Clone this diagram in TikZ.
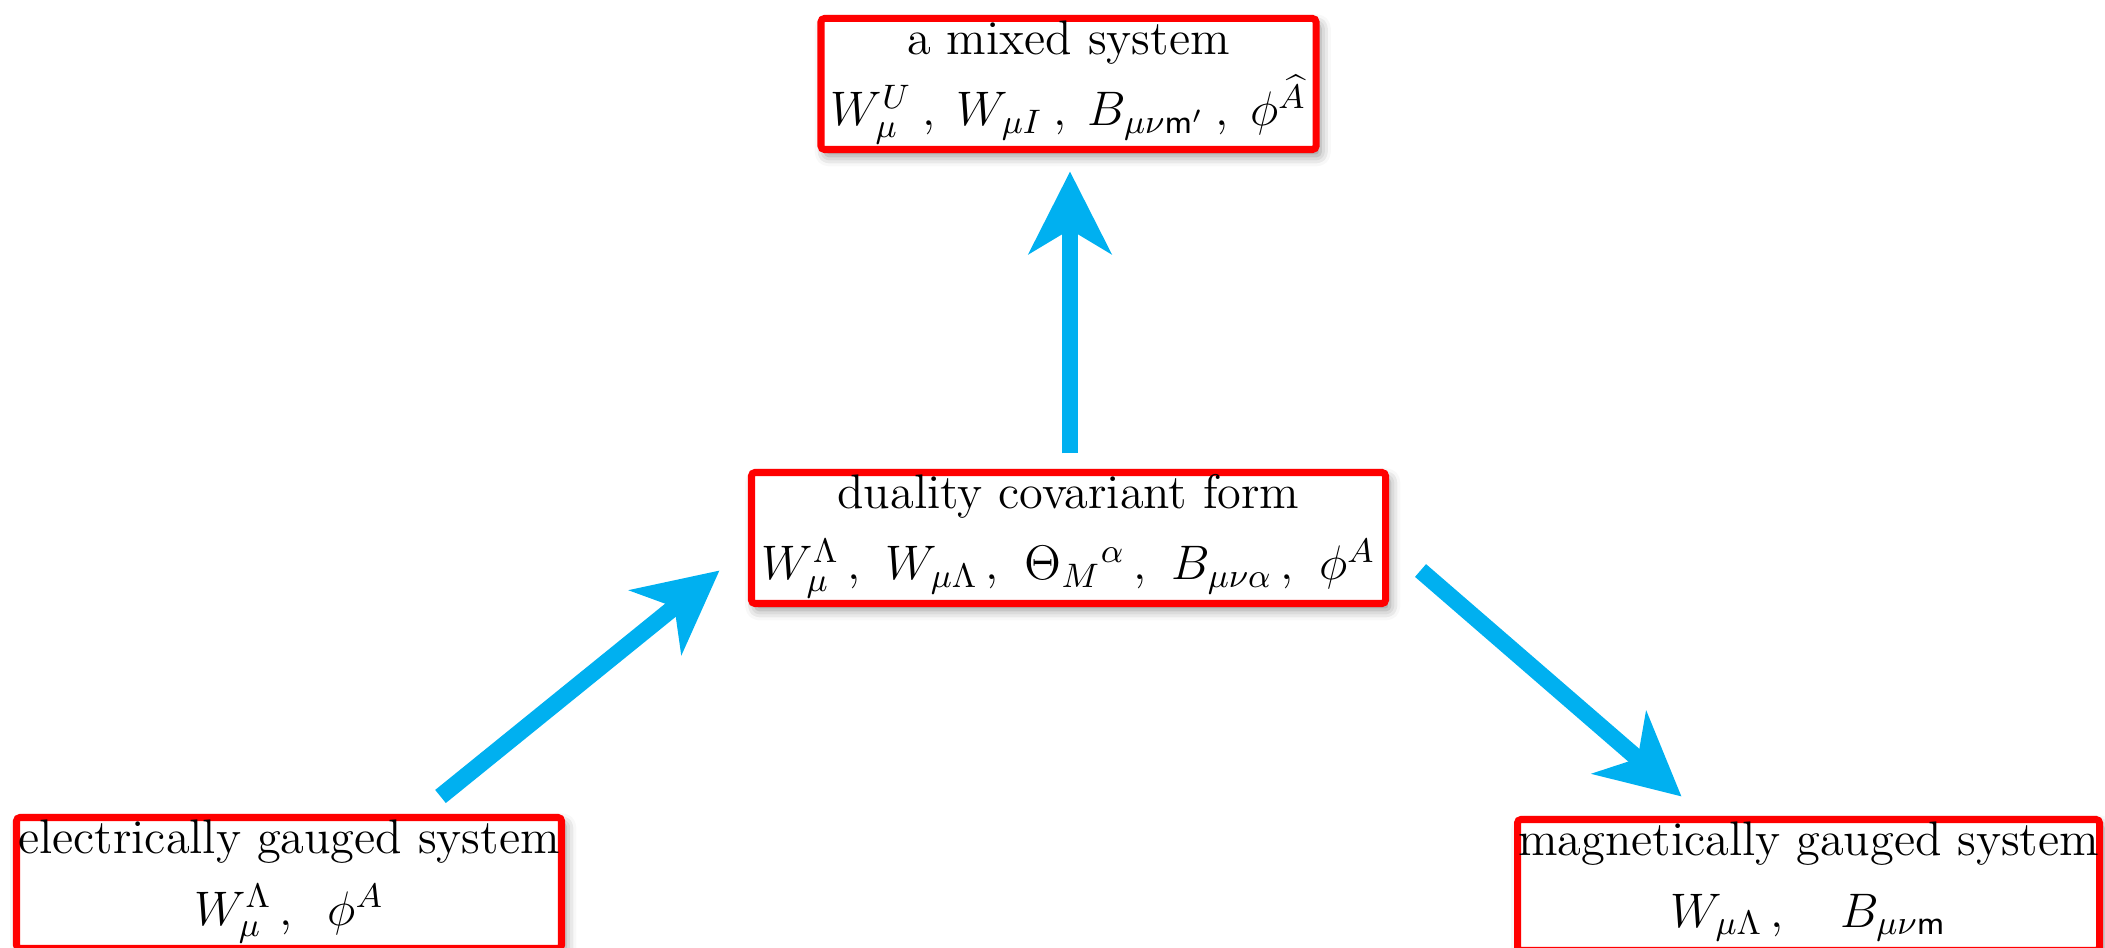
\RequirePackage{fix-cm}
\documentclass[tikz,border=0pt]{standalone}
\usetikzlibrary{arrows.meta,shadows.blur}
\definecolor{boxred}{RGB}{255,0,0}
\definecolor{flowblue}{RGB}{0,176,240}
% two centred lines with a fixed distance between their baselines
\newcommand\twolines[2]{\vbox{\baselineskip=20.3pt\lineskiplimit=-\maxdimen
  \halign{\hfil##\hfil\cr#1\cr#2\cr}}}
\tikzset{
  sysbox/.style={draw=boxred, line width=2pt, fill=white, rounded corners=1pt,
    inner sep=0pt, minimum height=1.31cm, text height=30.5pt, text depth=6.6pt,
    font=\fontsize{13.8}{20.3}\selectfont,
    blur shadow={shadow xshift=1.2pt, shadow yshift=-1.8pt,
      shadow blur radius=3pt, shadow opacity=45}},
  flow/.style={draw=flowblue, line width=4.8pt,
    -{Stealth[length=0.82cm, width=0.82cm, inset=0.24cm]}},
}
\begin{document}
\begin{tikzpicture}
\useasboundingbox (0,0) rectangle (21.05,9.47);

% the four systems
\node[sysbox, minimum width=4.95cm] (top) at (10.685,8.63)
  {\twolines{a mixed system}
   {$W^U_\mu\mskip4mu,\; W_{\mu I}\mskip4mu,\; B_{\mu\nu\mathsf{m}'}\mskip4mu,\; \phi^{\widehat{A}}$}};
\node[sysbox, minimum width=6.34cm] (mid) at (10.685,4.09)
  {\twolines{duality covariant form}
   {$W^\Lambda_\mu\,,\mskip6.5mu W_{\mu\Lambda}\,,\mskip6.5mu \Theta_M{}^\alpha\,,\mskip6.5mu B_{\mu\nu\alpha}\,,\mskip6.5mu \phi^A$}};
\node[sysbox, minimum width=5.45cm] (left) at (2.89,0.64)
  {\twolines{electrically gauged system}
   {$W^\Lambda_\mu\,,\mskip10mu \phi^A$}};
\node[sysbox, minimum width=5.82cm] (right) at (18.085,0.62)
  {\twolines{magnetically gauged system}
   {$W_{\mu\Lambda}\,,\quad B_{\mu\nu\mathsf{m}}$}};

% flows between the systems
\draw[flow] ([xshift=0.015cm,yshift=0.155cm]mid.north) -- ([xshift=0.015cm,yshift=-0.185cm]top.south);
\draw[flow] ([shift={(-1.245,0.175)}]left.north east) -- ([shift={(-0.285,0.365)}]mid.south west);
\draw[flow] ([shift={(0.315,0.365)}]mid.south east) -- ([shift={(1.675,0.195)}]right.north west);
\end{tikzpicture}
\end{document}
